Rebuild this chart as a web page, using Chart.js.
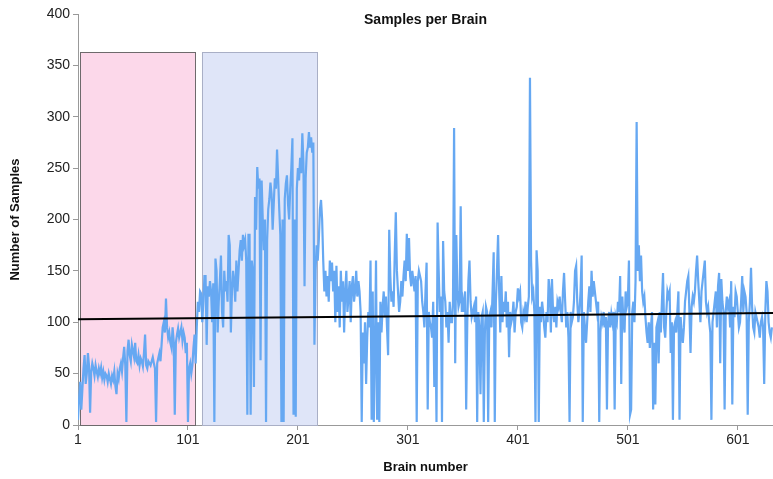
<!DOCTYPE html>
<html>
<head>
<meta charset="utf-8">
<script src="https://cdn.jsdelivr.net/npm/chart.js@4/dist/chart.umd.min.js"></script>
<style>
  html, body { margin: 0; padding: 0; background: #ffffff; }
  #wrap { width: 773px; height: 479px; }
</style>
</head>
<body>
<div id="wrap"><canvas id="chart-brains"></canvas></div>
<script>
// Muestras por cerebro (cerebro 1 .. 632)
const samples = [
  5, 25, 42, 15, 35, 55, 68, 40, 50, 70,
  58, 12, 52, 60, 55, 48, 58, 52, 47, 55,
  50, 56, 46, 52, 44, 50, 48, 42, 50, 45,
  40, 48, 44, 52, 38, 30, 50, 45, 55, 60,
  52, 65, 76, 58, 3, 72, 83, 68, 62, 78,
  72, 66, 80, 62, 60, 68, 58, 65, 62, 57,
  70, 88, 58, 55, 62, 60, 58, 62, 66, 60,
  55, 3, 60, 65, 70, 62, 78, 95, 100, 90,
  123, 95, 85, 90, 80, 75, 95, 82, 10, 80,
  88, 94, 85, 90, 95, 82, 90, 85, 70, 80,
  3, 55, 60, 50, 58, 75, 88, 60, 95, 120,
  110, 130, 128, 100, 120, 145, 145, 78, 135, 125,
  140, 130, 100, 138, 3, 162, 150, 90, 120, 140,
  165, 110, 95, 150, 130, 140, 120, 185, 175, 90,
  130, 150, 140, 120, 160, 130, 150, 170, 180, 160,
  185, 175, 180, 160, 10, 185, 185, 10, 160, 150,
  37, 222, 190, 251, 230, 240, 63, 238, 200, 170,
  200, 3, 180, 210, 220, 236, 225, 190, 215, 240,
  230, 268, 240, 210, 185, 3, 200, 3, 220, 235,
  243, 215, 200, 230, 250, 279, 10, 200, 8, 230,
  250, 238, 260, 245, 284, 255, 135, 240, 265, 270,
  285, 270, 280, 265, 275, 78, 150, 175, 160, 180,
  210, 219, 200, 160, 130, 150, 125, 145, 120, 160,
  140, 158, 130, 150, 100, 155, 110, 135, 95, 150,
  120, 140, 90, 130, 150, 110, 125, 140, 100, 135,
  145, 120, 130, 150, 125, 140, 130, 110, 3, 90,
  60, 100, 40, 85, 110, 95, 160, 5, 130, 3,
  70, 160, 5, 100, 3, 120, 90, 115, 130, 105,
  125, 95, 68, 190, 145, 120, 130, 115, 165, 207,
  150, 130, 110, 120, 140, 125, 145, 160, 140, 186,
  150, 182, 145, 135, 150, 140, 130, 145, 3, 140,
  150, 145, 140, 120, 110, 95, 130, 158, 15, 110,
  100, 95, 85, 120, 37, 105, 3, 197, 150, 110,
  125, 3, 179, 130, 120, 95, 110, 80, 120, 100,
  100, 120, 289, 60, 185, 130, 115, 120, 213, 110,
  120, 110, 130, 15, 100, 140, 160, 120, 105, 110,
  115, 100, 125, 3, 110, 95, 30, 105, 110, 3,
  90, 115, 110, 3, 105, 110, 95, 130, 168, 3,
  120, 150, 185, 130, 90, 145, 100, 120, 110, 130,
  95, 120, 66, 110, 100, 105, 120, 90, 110, 115,
  133, 125, 130, 100, 95, 110, 105, 120, 100, 115,
  125, 338, 160, 125, 130, 110, 3, 170, 150, 3,
  115, 100, 120, 110, 95, 85, 110, 100, 142, 130,
  90, 142, 110, 100, 115, 95, 120, 115, 125, 110,
  100, 130, 148, 120, 95, 110, 85, 3, 110, 100,
  105, 120, 150, 155, 120, 100, 110, 130, 165, 3,
  110, 95, 80, 100, 120, 135, 110, 150, 125, 140,
  130, 120, 110, 120, 3, 90, 105, 100, 110, 95,
  105, 15, 100, 110, 95, 108, 100, 110, 15, 105,
  100, 120, 110, 145, 40, 125, 100, 90, 130, 115,
  120, 160, 10, 15, 110, 120, 100, 140, 295, 150,
  175, 140, 165, 130, 120, 125, 105, 90, 80, 100,
  75, 95, 110, 15, 80, 20, 95, 100, 60, 110,
  90, 120, 148, 95, 85, 110, 130, 125, 130, 70,
  100, 5, 95, 100, 90, 110, 130, 5, 105, 90,
  80, 95, 120, 130, 140, 145, 110, 70, 115, 125,
  120, 130, 150, 165, 140, 120, 100, 130, 140, 150,
  160, 120, 110, 115, 100, 90, 5, 100, 110, 120,
  130, 95, 135, 148, 60, 142, 120, 110, 15, 110,
  125, 115, 120, 95, 140, 20, 115, 105, 130, 125,
  110, 95, 100, 120, 145, 110, 130, 125, 110, 10,
  100, 120, 153, 115, 95, 90, 110, 105, 100, 95,
  85, 100, 105, 95, 40, 110, 140, 130, 100, 90,
  85, 95
];

// Linea de tendencia (extremos)
const trendBrains = [1, 633];
const trendSamples = [103, 109];

// Rangos sombreados (desde, hasta, altura)
const bandFrom = [2.8, 113.7];
const bandTo = [107.4, 218.3];
const bandTop = [363, 363];
const bandFill = ['#fcd8ea', '#dfe5f8'];
const bandBorder = ['#6e6a6c', '#a9afc6'];

const xTicks = [1, 101, 201, 301, 401, 501, 601];
const chartTitle = 'Samples per Brain';

const fontFamily = '"Liberation Sans", Arial, sans-serif';

const bandsPlugin = {
    id: 'bands',
    beforeDatasetsDraw(chart) {
        const { ctx, scales } = chart;
        ctx.save();
        bandFrom.forEach((f, i) => {
            const x1 = scales.x.getPixelForValue(f);
            const x2 = scales.x.getPixelForValue(bandTo[i]);
            const y1 = scales.y.getPixelForValue(bandTop[i]);
            const y2 = scales.y.getPixelForValue(0);
            ctx.fillStyle = bandFill[i];
            ctx.fillRect(x1, y1, x2 - x1, y2 - y1);
            ctx.strokeStyle = bandBorder[i];
            ctx.lineWidth = 1;
            ctx.strokeRect(Math.round(x1) + 0.5, Math.round(y1) + 0.5, Math.round(x2 - x1), Math.round(y2 - y1));
        });
        ctx.restore();
    },
    afterDraw(chart) {
        const { ctx, chartArea } = chart;
        ctx.save();
        ctx.font = 'bold 14px ' + fontFamily;
        ctx.fillStyle = '#111';
        ctx.textAlign = 'center';
        ctx.textBaseline = 'middle';
        ctx.fillText(chartTitle, (chartArea.left + chartArea.right) / 2, 20);
        ctx.restore();
    }
};

const points = samples.map((v, i) => ({ x: i + 1, y: v }));
const trend = trendBrains.map((b, i) => ({ x: b, y: trendSamples[i] }));

new Chart(document.getElementById('chart-brains'), {
    type: 'line',
    data: {
        datasets: [
            {
                label: 'Samples',
                data: points,
                borderColor: '#66a8f2',
                borderWidth: 2.2,
                pointRadius: 0,
                tension: 0,
                fill: false,
                order: 2
            },
            {
                label: 'Trend',
                data: trend,
                borderColor: '#000000',
                borderWidth: 2,
                pointRadius: 0,
                fill: false,
                order: 1
            }
        ]
    },
    options: {
        responsive: true,
        maintainAspectRatio: false,
        animation: false,
        layout: { padding: { top: 14, right: 0, left: 0, bottom: 0 } },
        plugins: {
            legend: { display: false },
            tooltip: { enabled: false }
        },
        scales: {
            x: {
                type: 'linear',
                min: 1,
                max: 633,
                afterBuildTicks: (scale) => { scale.ticks = xTicks.map(v => ({ value: v })); },
                afterFit: (scale) => { scale.height = 54; },
                grid: { display: true, drawOnChartArea: false, tickLength: 5, color: '#999' },
                border: { color: '#999' },
                ticks: { color: '#222', font: { size: 14, family: fontFamily }, maxRotation: 0, padding: 2 },
                title: { display: true, text: 'Brain number', color: '#111', font: { size: 13, weight: 'bold', family: fontFamily }, padding: { top: 6 } }
            },
            y: {
                min: 0,
                max: 400,
                afterFit: (scale) => { scale.width = 78; },
                grid: { display: true, drawOnChartArea: false, tickLength: 5, color: '#999' },
                border: { color: '#999' },
                ticks: { stepSize: 50, color: '#222', font: { size: 14, family: fontFamily }, padding: 3 },
                title: { display: true, text: 'Number of Samples', color: '#111', font: { size: 13, weight: 'bold', family: fontFamily }, padding: { top: 8, bottom: 2 } }
            }
        }
    },
    plugins: [bandsPlugin]
});
</script>
</body>
</html>
